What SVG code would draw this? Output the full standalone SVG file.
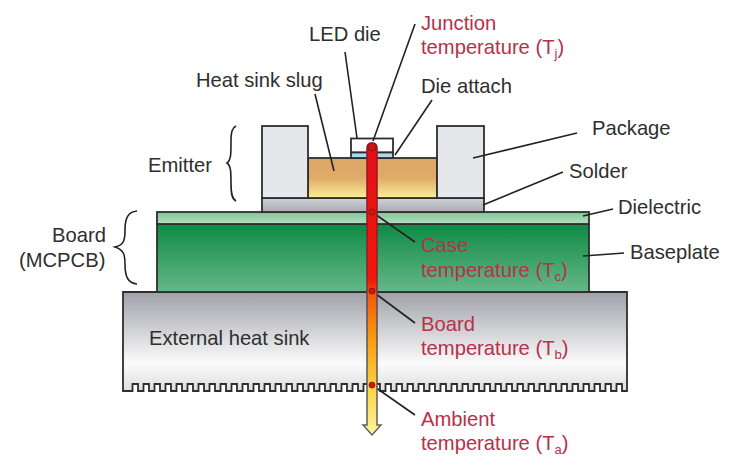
<svg xmlns="http://www.w3.org/2000/svg" width="735" height="475" viewBox="0 0 735 475">
<style>
.s{stroke:#2e2e2e;stroke-width:1.800}
.l{stroke:#222;stroke-width:1.600;fill:none}
text{font-family:"Liberation Sans",Arial,sans-serif;font-size:20.200px;fill:#2e2e2e}
.r{fill:#b8304a}
.sub{font-size:13px}
.d{fill:#c81818;stroke:#8a1010;stroke-width:.8}
</style>
<defs>
<linearGradient id="gs" x1="0" y1="0" x2="0" y2="1"><stop offset="0" stop-color="#a0a1a9"/><stop offset=".72" stop-color="#fbfbfb"/><stop offset="1" stop-color="#dedede"/></linearGradient>
<linearGradient id="gb" x1="0" y1="0" x2="0" y2="1"><stop offset="0" stop-color="#0f8a45"/><stop offset="1" stop-color="#66b888"/></linearGradient>
<linearGradient id="gd" x1="0" y1="0" x2="0" y2="1"><stop offset="0" stop-color="#7fc596"/><stop offset="1" stop-color="#b4dfc0"/></linearGradient>
<linearGradient id="gu" x1="0" y1="0" x2="0" y2="1"><stop offset="0" stop-color="#dca667"/><stop offset=".5" stop-color="#e0aa68"/><stop offset="1" stop-color="#fbf096"/></linearGradient>
<linearGradient id="gl" x1="0" y1="0" x2="0" y2="1"><stop offset="0" stop-color="#d0d2d8"/><stop offset="1" stop-color="#a9abb4"/></linearGradient>
<linearGradient id="gt" gradientUnits="userSpaceOnUse" x1="0" y1="143" x2="0" y2="435"><stop offset="0" stop-color="#e0101a"/><stop offset=".47" stop-color="#f01808"/><stop offset=".52" stop-color="#f45a08"/><stop offset=".67" stop-color="#fa9a10"/><stop offset=".83" stop-color="#fcd040"/><stop offset="1" stop-color="#fdf69a"/></linearGradient>
<linearGradient id="gts" gradientUnits="userSpaceOnUse" x1="0" y1="143" x2="0" y2="435"><stop offset="0" stop-color="#a01020"/><stop offset=".45" stop-color="#8a2030"/><stop offset=".55" stop-color="#505060"/><stop offset="1" stop-color="#606060"/></linearGradient>
</defs>
<g id="heat-sink"><path class="s" fill="url(#gs)" d="M123 292H627V391H622
v-7h-5.500v7h-5.500v-7h-5.500v7h-5.500v-7h-5.500v7h-5.500v-7h-5.500v7h-5.500v-7h-5.500v7h-5.500v-7h-5.500v7h-5.500v-7h-5.500v7h-5.500v-7h-5.500v7h-5.500v-7h-5.500v7h-5.500
v-7h-5.500v7h-5.500v-7h-5.500v7h-5.500v-7h-5.500v7h-5.500v-7h-5.500v7h-5.500v-7h-5.500v7h-5.500v-7h-5.500v7h-5.500v-7h-5.500v7h-5.500v-7h-5.500v7h-5.500v-7h-5.500v7h-5.500
v-7h-5.500v7h-5.500v-7h-5.500v7h-5.500v-7h-5.500v7h-5.500v-7h-5.500v7h-5.500v-7h-5.500v7h-5.500v-7h-5.500v7h-5.500v-7h-5.500v7h-5.500v-7h-5.500v7h-5.500v-7h-5.500v7h-5.500
v-7h-5.500v7h-5.500v-7h-5.500v7h-5.500v-7h-5.500v7h-5.500v-7h-5.500v7h-5.500v-7h-5.500v7h-5.500v-7h-5.500v7h-5.500v-7h-5.500v7h-5.500v-7h-5.500v7h-5.500v-7h-5.500v7h-5.500
v-7h-5.500v7h-5.500v-7h-5.500v7h-5.500v-7h-5.500v7h-5.500v-7h-5.500v7h-5.500v-7h-5.500v7h-5.500
v-7h-5.500v7h-5.500v-7h-5.500v7h-5.500v-7h-5.500v7h-5.500v-7h-5.500v7h-5.500
H123Z"/><text x="149" y="345">External heat sink</text></g>
<g id="baseplate"><rect class="s" x="157" y="224" width="432" height="68" fill="url(#gb)"/></g>
<g id="dielectric"><rect class="s" x="157" y="212" width="432" height="12" fill="url(#gd)"/></g>
<g id="solder"><rect class="s" x="262" y="198" width="222" height="14" fill="url(#gl)"/></g>
<g id="slug"><rect class="s" x="308" y="158" width="129" height="40" fill="url(#gu)"/></g>
<g id="package"><rect class="s" x="262" y="126" width="46" height="72" fill="#e6e7ea"/><rect class="s" x="437" y="126" width="47" height="72" fill="#e6e7ea"/></g>
<g id="led-die"><rect class="s" x="351" y="138.500" width="42" height="14" fill="#fff"/><rect class="s" x="351" y="152.500" width="42" height="5.500" fill="#a8dcec"/></g>
<g id="connectors">
<path class="l" d="M315 94L334 171M345 52L357 138M415 24L373 141M432 100L395 155M577 133L473 158M563 172L483 205M613 209L583 216M624 253L583 256"/>
<path class="l" d="M372 212L415 242M372 291L415 323M372 385L415 415"/>
<path class="l" d="M236 126C232 128 231 132 231 142C231 154 231 160 227 163C231 166 231 172 231 184C231 194 232 199 236 201"/>
<path class="l" d="M137 211C128 212 125 218 125 230C125 240 124 245 115 247C124 250 125 255 125 264C125 277 128 283 137 284"/>
</g>
<g id="thermometer"><path fill="url(#gt)" stroke="url(#gts)" stroke-width="1.500" d="M367 148Q367 143 372 143Q377 143 377 148V425H381L372 435L363 425H367Z"/>
<circle class="d" cx="372" cy="147" r="4"/><circle class="d" cx="372" cy="212" r="3"/><circle class="d" cx="372" cy="291" r="3"/><circle class="d" cx="372" cy="385" r="3"/></g>
<g id="labels">
<text x="309" y="41">LED die</text>
<text x="196" y="87">Heat sink slug</text>
<text x="421" y="93">Die attach</text>
<text x="592" y="135">Package</text>
<text x="569" y="178">Solder</text>
<text x="148" y="172">Emitter</text>
<text x="618" y="214">Dielectric</text>
<text x="630" y="259">Baseplate</text>
<text x="52" y="242">Board</text>
<text x="19" y="267">(MCPCB)</text>
<text class="r" x="421" y="30">Junction</text>
<text class="r" x="421" y="54">temperature (T<tspan class="sub r" dy="4">j</tspan><tspan dy="-4">)</tspan></text>
<text class="r" x="421" y="252">Case</text>
<text class="r" x="421" y="277">temperature (T<tspan class="sub r" dy="4">c</tspan><tspan dy="-4">)</tspan></text>
<text class="r" x="421" y="331">Board</text>
<text class="r" x="421" y="355">temperature (T<tspan class="sub r" dy="4">b</tspan><tspan dy="-4">)</tspan></text>
<text class="r" x="421" y="426">Ambient</text>
<text class="r" x="421" y="450">temperature (T<tspan class="sub r" dy="4">a</tspan><tspan dy="-4">)</tspan></text>
</g>
</svg>
